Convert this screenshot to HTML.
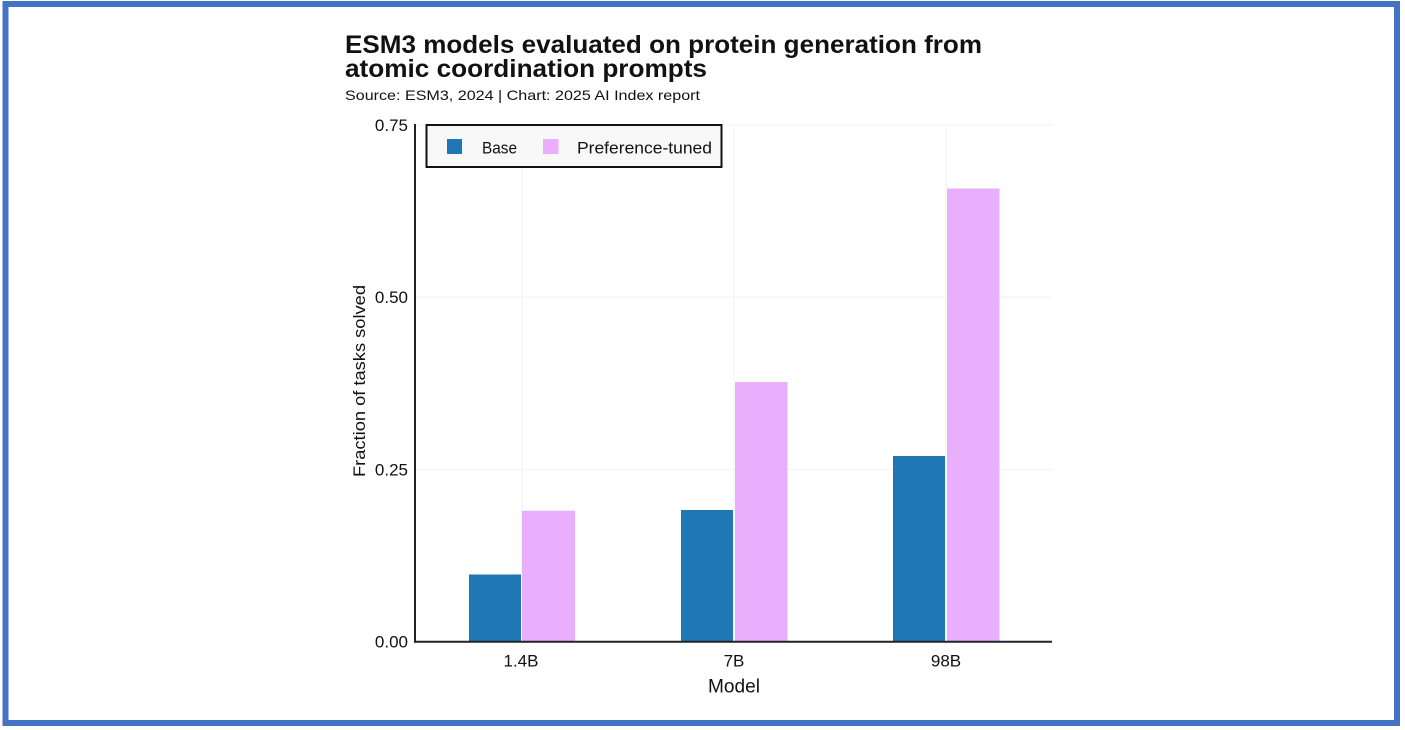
<!DOCTYPE html>
<html>
<head>
<meta charset="utf-8">
<style>
  html, body { margin: 0; padding: 0; background: #ffffff; }
  svg { display: block; }
  text { font-family: "Liberation Sans", "DejaVu Sans", sans-serif; fill: #111; }
</style>
</head>
<body>
<svg width="1405" height="730" viewBox="0 0 1405 730" xmlns="http://www.w3.org/2000/svg">
  <rect x="0" y="0" width="1405" height="730" fill="#ffffff"/>
  <!-- frame -->
  <rect x="5.5" y="4" width="1391.5" height="719" fill="#ffffff" stroke="#4472c4" stroke-width="6"/>

  <!-- title -->
  <text x="345" y="53" font-size="25" font-weight="bold" textLength="637" lengthAdjust="spacingAndGlyphs">ESM3 models evaluated on protein generation from</text>
  <text x="345" y="77" font-size="25" font-weight="bold" textLength="362" lengthAdjust="spacingAndGlyphs">atomic coordination prompts</text>
  <text x="345" y="100" font-size="14" textLength="355" lengthAdjust="spacingAndGlyphs">Source: ESM3, 2024 | Chart: 2025 AI Index report</text>

  <!-- gridlines -->
  <g stroke="#f2f2f2" stroke-width="1">
    <line x1="415" y1="469.4" x2="1052" y2="469.4"/>
    <line x1="415" y1="297" x2="1052" y2="297"/>
    <line x1="415" y1="125" x2="1052" y2="125"/>
    <line x1="522" y1="125" x2="522" y2="641"/>
    <line x1="734" y1="125" x2="734" y2="641"/>
    <line x1="946" y1="125" x2="946" y2="641"/>
  </g>

  <!-- bars -->
  <g>
    <rect x="469" y="574.5" width="52" height="67.2" fill="#1f77b4"/>
    <rect x="522" y="510.7" width="53" height="131" fill="#e9affc"/>
    <rect x="681" y="510" width="52" height="131.7" fill="#1f77b4"/>
    <rect x="735" y="382" width="52.5" height="259.7" fill="#e9affc"/>
    <rect x="893" y="456" width="52" height="185.7" fill="#1f77b4"/>
    <rect x="947" y="188.5" width="52.5" height="453.2" fill="#e9affc"/>
  </g>

  <!-- axes -->
  <line x1="415" y1="124" x2="415" y2="642.7" stroke="#222" stroke-width="2"/>
  <line x1="414" y1="641.7" x2="1052" y2="641.7" stroke="#222" stroke-width="2"/>

  <!-- y tick labels -->
  <g font-size="17" text-anchor="end">
    <text x="408" y="131">0.75</text>
    <text x="408" y="303">0.50</text>
    <text x="408" y="475.5">0.25</text>
    <text x="408" y="647.5">0.00</text>
  </g>

  <!-- y axis label -->
  <text transform="translate(365,381) rotate(-90)" font-size="17" text-anchor="middle" textLength="192" lengthAdjust="spacingAndGlyphs">Fraction of tasks solved</text>

  <!-- x tick labels -->
  <g font-size="17" text-anchor="middle">
    <text x="521" y="666.5">1.4B</text>
    <text x="734" y="666.5">7B</text>
    <text x="946" y="666.5">98B</text>
  </g>
  <text x="734" y="692.5" font-size="19" text-anchor="middle" textLength="52" lengthAdjust="spacingAndGlyphs">Model</text>

  <!-- legend -->
  <rect x="426.5" y="125" width="295" height="42" fill="#f8f8f8" stroke="#111" stroke-width="2"/>
  <rect x="447" y="139" width="15" height="15" fill="#1f77b4"/>
  <text x="482" y="153.5" font-size="17" textLength="35" lengthAdjust="spacingAndGlyphs">Base</text>
  <rect x="543" y="139" width="15.5" height="15" fill="#e9affc"/>
  <text x="577" y="153.5" font-size="17" textLength="135" lengthAdjust="spacingAndGlyphs">Preference-tuned</text>
</svg>
</body>
</html>
